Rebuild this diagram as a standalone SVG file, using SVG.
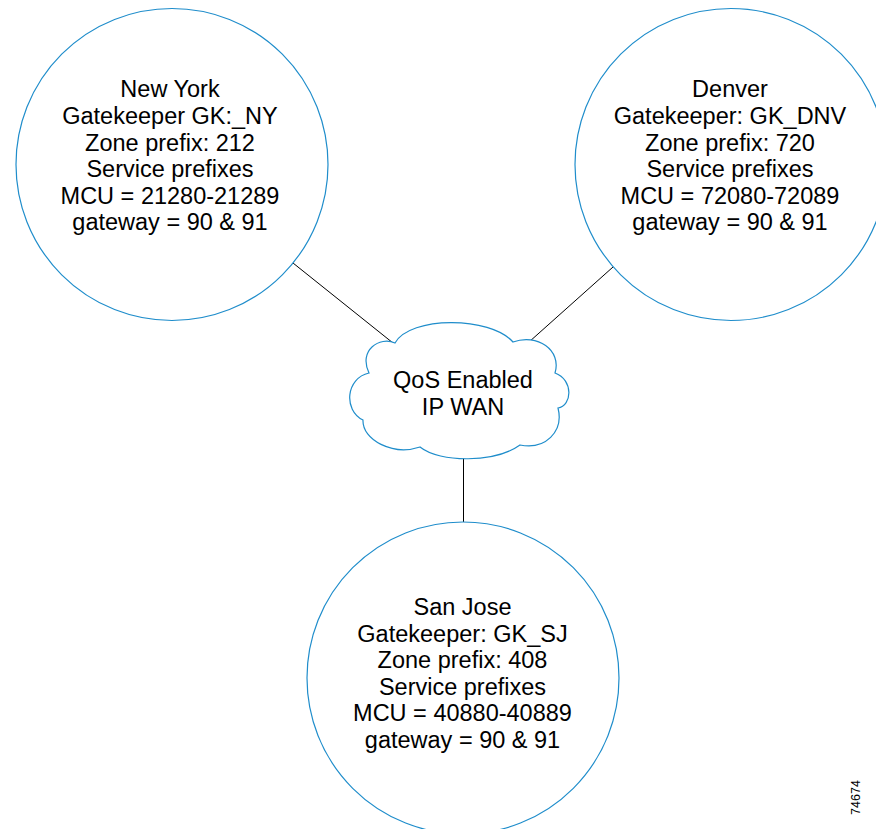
<svg xmlns="http://www.w3.org/2000/svg" width="876" height="829" viewBox="0 0 876 829">
  <style>
    .node { fill: #ffffff; stroke: #1f8dcb; stroke-width: 1.2; }
    .lbl { font-family: "Liberation Sans", Arial, sans-serif; font-size: 23.5px; fill: #000000; text-anchor: middle; }
    .conn { stroke: #000000; stroke-width: 1; fill: none; }
    .fig { font-family: "Liberation Sans", Arial, sans-serif; font-size: 12.5px; fill: #000000; text-anchor: middle; }
  </style>
  <rect width="876" height="829" fill="#ffffff"/>
  <g id="connectors">
    <line class="conn" x1="293" y1="263" x2="393" y2="343"/>
    <line class="conn" x1="613" y1="267" x2="529" y2="342"/>
    <line class="conn" x1="463.5" y1="455" x2="463.5" y2="522"/>
  </g>
  <g id="new-york">
    <circle class="node" cx="172" cy="164.5" r="156"/>
    <text class="lbl" x="170" y="97">New York</text>
    <text class="lbl" x="170" y="124">Gatekeeper GK:_NY</text>
    <text class="lbl" x="170" y="151">Zone prefix: 212</text>
    <text class="lbl" x="170" y="177">Service prefixes</text>
    <text class="lbl" x="170" y="203.5">MCU = 21280-21289</text>
    <text class="lbl" x="170" y="230">gateway = 90 &amp; 91</text>
  </g>
  <g id="denver">
    <circle class="node" cx="731" cy="164.5" r="156"/>
    <text class="lbl" x="730" y="97">Denver</text>
    <text class="lbl" x="730" y="124">Gatekeeper: GK_DNV</text>
    <text class="lbl" x="730" y="151">Zone prefix: 720</text>
    <text class="lbl" x="730" y="177">Service prefixes</text>
    <text class="lbl" x="730" y="203.5">MCU = 72080-72089</text>
    <text class="lbl" x="730" y="230">gateway = 90 &amp; 91</text>
  </g>
  <g id="wan">
    <path class="node" d="M 369,373 C 358,350 380,336 395,343 C 410,316 490,316 513,342 C 537,333 562,350 555,373 C 574,380 572,406 558,408 C 564,432 545,450 520,445 C 495,463 440,463 420,447 C 393,456 362,440 363,420 C 343,410 346,378 369,373 Z"/>
    <text class="lbl" x="463" y="388">QoS Enabled</text>
    <text class="lbl" x="463" y="415">IP WAN</text>
  </g>
  <g id="san-jose">
    <circle class="node" cx="463" cy="678" r="156"/>
    <text class="lbl" x="462.5" y="615">San Jose</text>
    <text class="lbl" x="462.5" y="641.5">Gatekeeper: GK_SJ</text>
    <text class="lbl" x="462.5" y="668">Zone prefix: 408</text>
    <text class="lbl" x="462.5" y="694.5">Service prefixes</text>
    <text class="lbl" x="462.5" y="721">MCU = 40880-40889</text>
    <text class="lbl" x="462.5" y="747.5">gateway = 90 &amp; 91</text>
  </g>
  <text class="fig" x="860" y="797.5" transform="rotate(-90 860 797.5)">74674</text>
</svg>
